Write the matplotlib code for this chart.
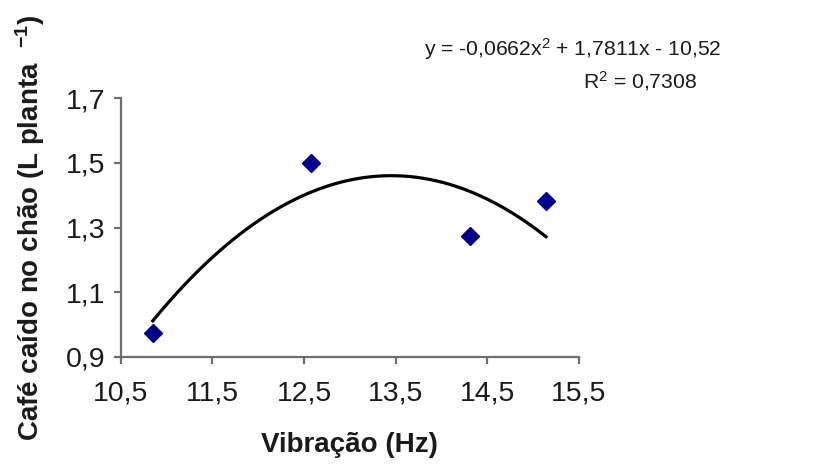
import numpy as np
import matplotlib
matplotlib.use("Agg")
import matplotlib.pyplot as plt

plt.rcParams['font.family'] = ['Liberation Sans', 'DejaVu Sans']
plt.rcParams['mathtext.fontset'] = 'custom'
plt.rcParams['mathtext.rm'] = 'Liberation Sans'
plt.rcParams['mathtext.it'] = 'Liberation Sans'
plt.rcParams['mathtext.bf'] = 'Liberation Sans:bold'

# Data
vibracao_hz = [10.85, 12.58, 14.31, 15.14]
cafe_caido = [0.973, 1.498, 1.275, 1.382]
# Trendline coefficients shown on the chart (quadratic)
trend_coefs = [-0.0662, 1.7811, -10.52]
x_ticks = [10.5, 11.5, 12.5, 13.5, 14.5, 15.5]
x_tick_labels = ["10,5", "11,5", "12,5", "13,5", "14,5", "15,5"]
y_ticks = [0.9, 1.1, 1.3, 1.5, 1.7]
y_tick_labels = ["0,9", "1,1", "1,3", "1,5", "1,7"]
eq_text = "y = -0,0662x$^{2}$ + 1,7811x - 10,52"
r2_text = "R$^{2}$ = 0,7308"

fig = plt.figure(figsize=(8.3, 4.69), dpi=100)
ax = fig.add_axes([120.7/830, 1-357/469, (579-120.7)/830, (357-98)/469])

xs = np.linspace(min(vibracao_hz), max(vibracao_hz), 200)
ax.plot(xs, np.polyval(trend_coefs, xs), color='black', lw=2.3, zorder=2)
ax.plot(vibracao_hz, cafe_caido, linestyle='none', marker='D', ms=9.5,
        color='#00008B', mec='#00008B', zorder=3, clip_on=False)

ax.set_xlim(10.5, 15.5)
ax.set_ylim(0.9, 1.7)
ax.set_xticks(x_ticks)
ax.set_xticklabels(x_tick_labels)
ax.set_yticks(y_ticks)
ax.set_yticklabels(y_tick_labels)
for s in ['top', 'right']:
    ax.spines[s].set_visible(False)
for s in ['left', 'bottom']:
    ax.spines[s].set_color('#6e6e6e')
    ax.spines[s].set_linewidth(1.6)
ax.tick_params(axis='both', direction='out', length=5, width=1.6, color='#6e6e6e',
               labelsize=20.5, labelcolor='#1a1a1a')
ax.tick_params(axis='x', pad=12)
ax.tick_params(axis='y', pad=6)

ax.set_xlabel("Vibração (Hz)", fontsize=20, fontweight='bold', labelpad=18, color='#1a1a1a')
fig.text(30/830, 1-228/469, r"Café caído no chão (L planta  $^{\mathbf{-1}}$)",
         rotation=90, ha='center', va='center', fontsize=20, fontweight='bold', color='#1a1a1a')

fig.text(722/830, 1-56/469, eq_text, ha='right', va='baseline', fontsize=15.2, color='#1a1a1a')
fig.text(697/830, 1-88/469, r2_text, ha='right', va='baseline', fontsize=15.2, color='#1a1a1a')

fig.savefig("out.png", dpi=100)
